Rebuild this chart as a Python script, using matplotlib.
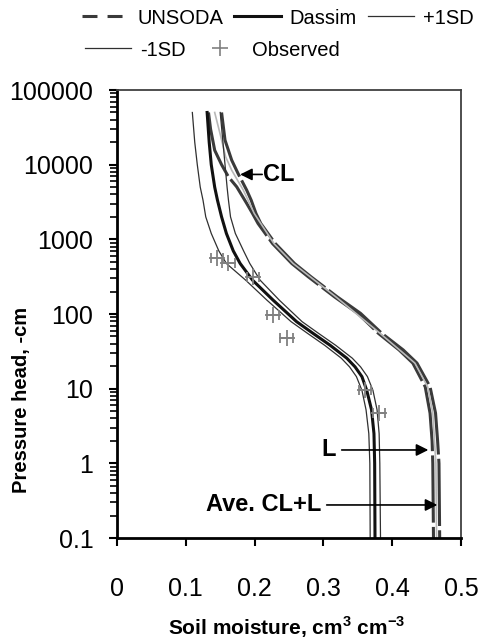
import matplotlib
matplotlib.use('Agg')
import matplotlib.pyplot as plt
from matplotlib.lines import Line2D
from matplotlib.ticker import LogLocator, NullFormatter

plt.rcParams['font.family'] = ['Liberation Sans', 'DejaVu Sans']
plt.rcParams['mathtext.fontset'] = 'custom'
plt.rcParams['mathtext.rm'] = 'Liberation Sans'
plt.rcParams['mathtext.bf'] = 'Liberation Sans:bold'

# retention curves: pressure head (-cm) against soil moisture (cm3 cm-3)
h_dassim = [50000, 20000, 10000, 5000, 3350, 2000, 1200, 700, 475, 284, 153,
            79, 55, 38, 25.6, 19.6, 14.5, 9.5, 5.2, 2.5, 1.0, 0.1]
dassim = [0.131, 0.134, 0.137, 0.142, 0.146, 0.152, 0.159, 0.169, 0.179, 0.197,
          0.227, 0.261, 0.285, 0.310, 0.334, 0.346, 0.356, 0.363, 0.370, 0.3735,
          0.3745, 0.375]
minus_sd = [0.1095, 0.113, 0.1167, 0.121, 0.125, 0.129, 0.137, 0.148, 0.159,
            0.187, 0.218, 0.253, 0.277, 0.302, 0.326, 0.338, 0.348, 0.356, 0.362,
            0.366, 0.3675, 0.368]
plus_sd = [0.150, 0.154, 0.157, 0.160, 0.162, 0.165, 0.172, 0.184, 0.193, 0.208,
           0.236, 0.269, 0.293, 0.318, 0.342, 0.354, 0.364, 0.372, 0.378, 0.381,
           0.382, 0.383]

h_unsoda_l = [50000, 30000, 15600, 10000, 6870, 5050, 3030, 2220, 1630, 880, 475,
              315, 170, 102, 55, 33, 22, 10.6, 4.7, 2.0, 1.0, 0.1]
unsoda_l = [0.133, 0.136, 0.142, 0.152, 0.162, 0.174, 0.1885, 0.197, 0.205, 0.226,
            0.254, 0.278, 0.316, 0.350, 0.380, 0.410, 0.430, 0.448, 0.455, 0.458,
            0.459, 0.460]

h_unsoda_cl = [50000, 21300, 11500, 7600, 4560, 3350, 2220, 1630, 880, 475, 315,
               170, 102, 55, 33, 22, 10.6, 4.7, 2.0, 1.0, 0.1]
unsoda_cl = [0.152, 0.157, 0.1667, 0.176, 0.1885, 0.195, 0.202, 0.209, 0.230, 0.258,
             0.282, 0.320, 0.354, 0.385, 0.416, 0.436, 0.455, 0.463, 0.466, 0.468,
             0.469]

h_avg = [50000, 26200, 12700, 8430, 4560, 2220, 880, 475, 170, 55, 22, 10.6, 4.7,
         1.0, 0.1]
avg = [0.142, 0.1497, 0.158, 0.1667, 0.1836, 0.1995, 0.228, 0.256, 0.318, 0.3825,
       0.433, 0.4515, 0.459, 0.4635, 0.4645]

obs_theta = [0.145, 0.162, 0.198, 0.227, 0.2466, 0.3605, 0.381]
obs_h = [570, 475, 310, 97, 47, 9.6, 4.7]
obs_err = [0.009, 0.009, 0.009, 0.009, 0.009, 0.009, 0.009]

y_ticks = [0.1, 1, 10, 100, 1000, 10000, 100000]
y_labels = ['0.1', '1', '10', '100', '1000', '10000', '100000']
x_ticks = [0, 0.1, 0.2, 0.3, 0.4, 0.5]
x_labels = ['0', '0.1', '0.2', '0.3', '0.4', '0.5']

W, H = 482, 641
fig = plt.figure(figsize=(W / 100, H / 100), dpi=100)
ax = fig.add_axes([117 / W, 1 - 538 / H, (461 - 117) / W, (538 - 90) / H])
ax.set_yscale('log')

long_dash = (0, (22, 1.4))
ax.plot(unsoda_l, h_unsoda_l, color='#3a3a3a', lw=2.2, ls=long_dash)
ax.plot(unsoda_cl, h_unsoda_cl, color='#3a3a3a', lw=2.2, ls=long_dash)
ax.plot(avg, h_avg, color='#b8b8b8', lw=1.2)
ax.plot(minus_sd, h_dassim, color='#303030', lw=0.9)
ax.plot(plus_sd, h_dassim, color='#303030', lw=0.9)
ax.plot(dassim, h_dassim, color='#111111', lw=2.2)
ax.errorbar(obs_theta, obs_h, xerr=obs_err, fmt='+', color='#808080', ms=11,
            mew=1.3, elinewidth=1.3, capsize=3.5, capthick=1.3)

arrow = dict(arrowstyle='-|>', color='black', lw=1.2, mutation_scale=18,
             shrinkA=0, shrinkB=0)
ax.annotate('', xy=(0.179, 7400), xytext=(0.211, 7400), arrowprops=arrow)
ax.text(0.2125, 7400, 'CL', fontsize=17, fontweight='bold', ha='left', va='center')
ax.annotate('', xy=(0.4525, 1.51), xytext=(0.3266, 1.51), arrowprops=arrow)
ax.text(0.307, 1.51, 'L', fontsize=17, fontweight='bold', ha='center', va='center')
ax.annotate('', xy=(0.4656, 0.277), xytext=(0.3048, 0.277), arrowprops=arrow)
ax.text(0.2975, 0.277, 'Ave. CL+L', fontsize=17, fontweight='bold', ha='right',
        va='center')

ax.set_xlim(0, 0.5)
ax.set_ylim(0.1, 100000)
ax.set_xticks(x_ticks)
ax.set_xticklabels(x_labels)
ax.set_yticks(y_ticks)
ax.set_yticklabels(y_labels)
ax.yaxis.set_minor_locator(LogLocator(base=10, subs=range(2, 10), numticks=20))
ax.yaxis.set_minor_formatter(NullFormatter())
ax.tick_params(axis='both', which='major', direction='out', length=6, width=1.5,
               labelsize=18, colors='black')
ax.tick_params(axis='y', which='major', pad=11)
ax.tick_params(axis='x', which='major', pad=22)
ax.tick_params(axis='y', which='minor', direction='out', length=5, width=1.2)

for side in ['left', 'bottom']:
    ax.spines[side].set_linewidth(2)
    ax.spines[side].set_color('black')
for side in ['top', 'right']:
    ax.spines[side].set_linewidth(1.3)
    ax.spines[side].set_color('#404040')

fig.text(22 / W, 1 - 400 / H, 'Pressure head, -cm', rotation=90, ha='center',
         va='center', fontsize=14.5, fontweight='bold')
fig.text(287 / W, 1 - 627 / H, r'Soil moisture, cm$^\mathbf{3}$ cm$^\mathbf{-3}$',
         ha='center', va='center', fontsize=15, fontweight='bold')

# legend laid out as two rows
row1 = [Line2D([], [], color='#3a3a3a', lw=2.2, ls=(0, (4.9, 3.3))),
        Line2D([], [], color='#111111', lw=2.2),
        Line2D([], [], color='#303030', lw=0.9)]
row2 = [Line2D([], [], color='#303030', lw=0.9),
        Line2D([], [], color='#808080', marker='+', ls='none', ms=11, mew=1.2)]
leg_kw = dict(frameon=False, borderpad=0, borderaxespad=0, handlelength=2.3,
              handletextpad=0.45, columnspacing=0.55, fontsize=14.5, loc='center left')
fig.legend(row1, ['UNSODA', 'Dassim', '+1SD'], ncol=3,
           bbox_to_anchor=(82 / W, 1 - 18 / H), **leg_kw)
fig.legend(row2, ['-1SD', 'Observed'], ncol=2,
           bbox_to_anchor=(85 / W, 1 - 50 / H), **leg_kw)

fig.savefig('out.png', dpi=100)
